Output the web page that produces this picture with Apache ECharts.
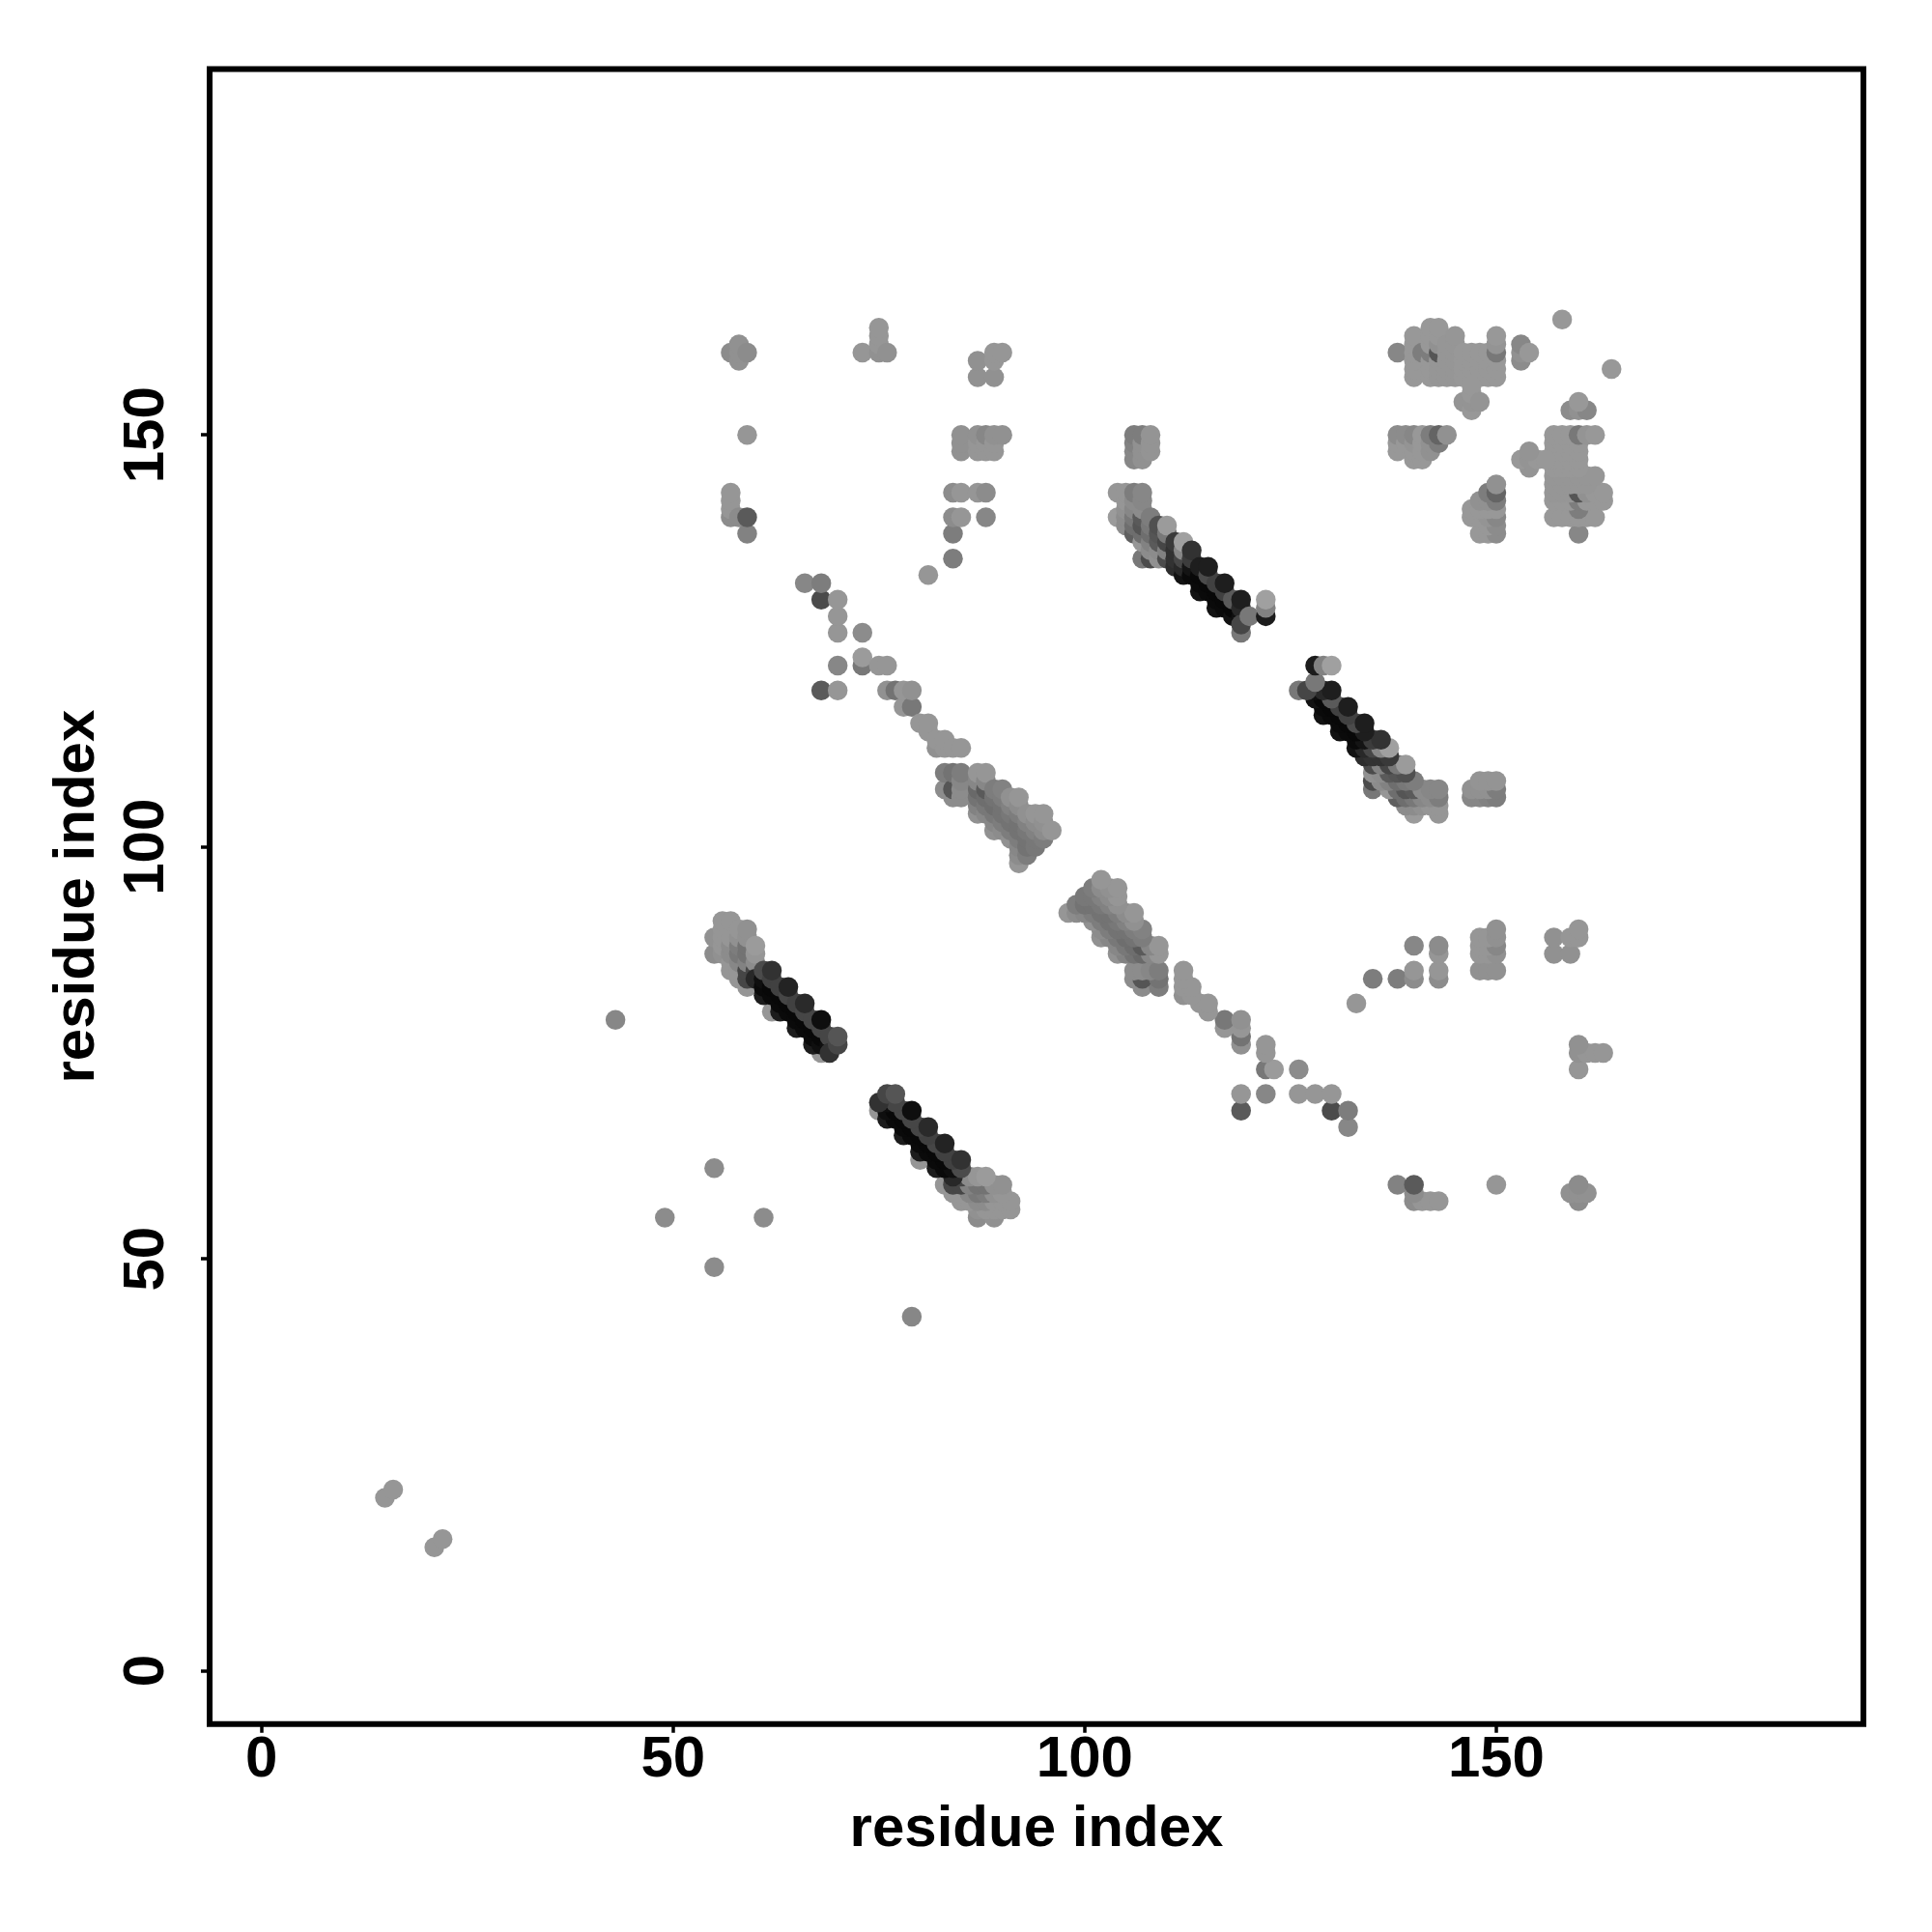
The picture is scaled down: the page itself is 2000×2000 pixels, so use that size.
<!DOCTYPE html>
<html>
<head>
<meta charset="utf-8">
<style>html,body{margin:0;padding:0;background:#fff}#c{width:2000px;height:2000px}</style>
<script src="https://cdn.jsdelivr.net/npm/echarts@6/dist/echarts.min.js"></script>
</head>
<body>
<div id="c"></div>
<script>
// every triple: residue x, residue y, grey level of the dot
const tickValues = [0, 50, 100, 150];
const axisTitle = 'residue index';

const sparseUpper = [[15,21,150],[16,22,150],[43,79,135],[49,55,140],[55,61,140],
[57,140,140],[57,141,150],[57,142,150],[57,143,150],[58,140,140],[59,138,130],[59,140,90],[59,150,150],
[57,160,140],[58,159,145],[58,160,145],[58,161,145],[59,160,140],
[73,160,150],[75,160,145],[75,161,150],[75,162,150],[75,163,150],[76,160,145],
[87,157,145],[87,159,145],[89,157,145],[89,159,150],[89,160,150],[90,160,150],
[81,133,150],[84,135,125],[84,138,125],[84,140,140],[84,143,140],[85,140,150],[85,143,150],[87,143,150],[88,140,135],[88,143,140],
[85,148,145],[85,149,145],[85,150,145],[87,148,150],[87,149,150],[87,150,145],[88,148,150],[88,149,150],[88,150,135],[89,148,150],[89,149,150],[89,150,145],[90,150,145],
[66,132,135],[68,119,90],[68,130,75],[68,132,125],[70,119,150],[70,122,135],[70,126,150],[70,128,150],[70,130,150],[73,122,120],[73,123,155],[73,126,140],[75,122,150],[76,122,150],
[76,119,145],[77,119,115],[78,117,150],[78,119,150],[79,117,120],[79,119,145],[80,115,150],[81,114,150],[81,115,150],[82,112,145],[82,113,150],[83,112,150],[83,113,150],[84,112,150],[85,112,150]];

const sparseLower = [[21,15,150],[22,16,150],[79,43,135],[55,49,140],[61,55,140],
[140,57,140],[141,57,150],[142,57,150],[143,57,150],[140,58,140],[138,59,130],[140,59,90],[150,59,150],
[160,57,140],[159,58,145],[160,58,145],[161,58,145],[160,59,140],
[160,73,150],[160,75,145],[161,75,150],[162,75,150],[163,75,150],[160,76,145],
[157,87,145],[159,87,145],[157,89,145],[159,89,150],[160,89,150],[160,90,150],
[133,81,150],[135,84,125],[138,84,125],[140,84,140],[143,84,140],[140,85,150],[143,85,150],[143,87,150],[140,88,135],[143,88,140],
[148,85,145],[149,85,145],[150,85,145],[148,87,150],[149,87,150],[150,87,145],[148,88,150],[149,88,150],[150,88,135],[148,89,150],[149,89,150],[150,89,145],[150,90,145],
[132,66,135],[119,68,90],[130,68,75],[132,68,125],[119,70,150],[122,70,135],[126,70,150],[128,70,150],[130,70,150],[122,73,120],[123,73,155],[126,73,140],[122,75,150],[122,76,150],
[119,76,145],[119,77,115],[117,78,150],[119,78,150],[117,79,120],[119,79,145],[115,80,150],[114,81,150],[115,81,150],[112,82,145],[113,82,150],[112,83,150],[113,83,150],[112,84,150],[112,85,150]];

const helixUpper = [[83,107,140],[83,109,125],[84,106,140],[84,107,85],[84,109,115],[85,106,140],[85,107,140],[85,108,135],[85,109,125],
[87,104,145],[87,105,130],[87,106,115],[87,107,105],[87,108,135],[87,109,150],
[88,104,135],[88,105,120],[88,106,110],[88,107,90],[88,108,135],[88,109,150],
[89,102,145],[89,103,135],[89,104,120],[89,105,110],[89,106,115],[89,107,125],
[90,102,140],[90,103,125],[90,104,115],[90,105,115],[90,106,125],[90,107,130],
[91,101,145],[91,102,125],[91,103,115],[91,104,120],[91,105,130],[91,106,145],
[92,98,150],[92,99,140],[92,100,135],[92,101,125],[92,102,115],[92,103,115],[92,104,125],[92,105,140],[92,106,150],
[93,99,125],[93,100,115],[93,101,115],[93,102,120],[93,103,130],[93,104,145],
[94,100,120],[94,101,120],[94,102,130],[94,103,140],[94,104,150],
[95,101,125],[95,102,140],[95,103,145],[95,104,150],[96,102,150]];

const helixLower = [[107,83,140],[109,83,125],[106,84,140],[107,84,85],[109,84,115],[106,85,140],[107,85,140],[108,85,135],[109,85,125],
[104,87,145],[105,87,130],[106,87,115],[107,87,105],[108,87,135],[109,87,150],
[104,88,135],[105,88,120],[106,88,110],[107,88,90],[108,88,135],[109,88,150],
[102,89,145],[103,89,135],[104,89,120],[105,89,110],[106,89,115],[107,89,125],
[102,90,140],[103,90,125],[104,90,115],[105,90,115],[106,90,125],[107,90,130],
[101,91,145],[102,91,125],[103,91,115],[104,91,120],[105,91,130],[106,91,145],
[98,92,150],[99,92,140],[100,92,135],[101,92,125],[102,92,115],[103,92,115],[104,92,125],[105,92,140],[106,92,150],
[99,93,125],[100,93,115],[101,93,115],[102,93,120],[103,93,130],[104,93,145],
[100,94,120],[101,94,120],[102,94,130],[103,94,140],[104,94,150],
[101,95,125],[102,95,140],[103,95,145],[104,95,150],[102,96,150]];

const strandAUpper = [[55,87,140],[55,89,145],[56,87,145],[56,88,150],[56,89,150],[56,90,150],[56,91,150],
[57,85,150],[57,86,150],[57,87,140],[57,88,140],[57,89,150],[57,90,150],[57,91,150],
[58,84,150],[58,85,150],[58,86,135],[58,87,120],[58,88,125],[58,89,145],[58,90,150],
[59,83,150],[59,84,70],[59,85,70],[59,86,130],[59,87,115],[59,88,115],[59,89,145],[59,90,145],
[60,85,70],[60,86,140],[60,87,150],[60,88,155],
[62,80,150],[68,75,150],
[61,82,28],[63,80,28],[65,78,28],[67,76,28],
[60,84,40],[61,83,10],[62,82,10],[63,81,10],[64,80,10],[65,79,10],[66,78,10],[67,77,10],[68,76,15],
[61,84,15],[62,83,8],[63,82,8],[64,81,8],[65,80,8],[66,79,8],[67,78,8],[68,77,8],[69,76,15],
[61,85,75],[62,84,65],[63,83,65],[64,82,70],[65,81,65],[66,80,70],[67,79,70],[68,78,70],[69,77,70],
[62,85,50],[64,83,35],[66,81,42],[68,79,14],
[69,75,50],[70,76,70],[70,77,85]];

const strandALower = [[87,55,140],[89,55,145],[87,56,145],[88,56,150],[89,56,150],[90,56,150],[91,56,150],
[85,57,150],[86,57,150],[87,57,140],[88,57,140],[89,57,150],[90,57,150],[91,57,150],
[84,58,150],[85,58,150],[86,58,135],[87,58,120],[88,58,125],[89,58,145],[90,58,150],
[83,59,150],[84,59,70],[85,59,70],[86,59,130],[87,59,115],[88,59,115],[89,59,145],[90,59,145],
[85,60,70],[86,60,140],[87,60,150],[88,60,155],
[80,62,150],[75,68,150],
[82,61,28],[80,63,28],[78,65,28],[76,67,28],
[84,60,40],[83,61,10],[82,62,10],[81,63,10],[80,64,10],[79,65,10],[78,66,10],[77,67,10],[76,68,15],
[84,61,15],[83,62,8],[82,63,8],[81,64,8],[80,65,8],[79,66,8],[78,67,8],[77,68,8],[76,69,15],
[85,61,75],[84,62,65],[83,63,65],[82,64,70],[81,65,65],[80,66,70],[79,67,70],[78,68,70],[77,69,70],
[85,62,50],[83,64,35],[81,66,42],[79,68,14],
[75,69,50],[76,70,70],[77,70,85]];

const strandBUpper = [[104,140,155],[104,143,150],[105,139,140],[105,140,140],[105,141,145],[105,142,150],[105,143,150],
[106,138,95],[106,139,110],[106,140,120],[106,141,135],[106,142,140],[106,143,125],
[107,135,120],[107,137,150],[107,138,110],[107,139,85],[107,140,90],[107,141,140],[107,142,135],[107,143,135],
[108,135,75],[108,136,140],[108,137,130],[108,138,110],[108,139,120],[108,140,125],
[109,135,145],[109,136,140],[109,137,90],[109,138,85],[109,139,80],
[110,135,75],[110,136,130],[110,137,70],[110,138,120],[110,139,155],
[111,134,45],[111,135,50],[111,136,50],[111,137,58],
[112,133,18],[112,134,40],[112,135,70],[112,136,135],[112,137,160],
[114,131,18],[116,129,18],
[113,133,10],[114,132,10],[115,131,10],[116,130,10],[117,129,10],[118,128,18],
[113,134,20],[114,133,8],[115,132,8],[116,131,8],[117,130,8],[118,129,8],[119,128,15],
[113,135,60],[113,136,50],
[114,134,30],[115,133,75],[116,132,65],[117,131,65],[118,130,90],[119,129,40],
[115,134,30],[117,132,30],[119,130,30],
[119,126,120],[119,127,70],[120,128,120],[122,128,28],[122,129,130],[122,130,160]];

const strandBLower = [[140,104,155],[143,104,150],[139,105,140],[140,105,140],[141,105,145],[142,105,150],[143,105,150],
[138,106,95],[139,106,110],[140,106,120],[141,106,135],[142,106,140],[143,106,125],
[135,107,120],[137,107,150],[138,107,110],[139,107,85],[140,107,90],[141,107,140],[142,107,135],[143,107,135],
[135,108,75],[136,108,140],[137,108,130],[138,108,110],[139,108,120],[140,108,125],
[135,109,145],[136,109,140],[137,109,90],[138,109,85],[139,109,80],
[135,110,75],[136,110,130],[137,110,70],[138,110,120],[139,110,155],
[134,111,45],[135,111,50],[136,111,50],[137,111,58],
[133,112,18],[134,112,40],[135,112,70],[136,112,135],[137,112,160],
[131,114,18],[129,116,18],
[133,113,10],[132,114,10],[131,115,10],[130,116,10],[129,117,10],[128,118,18],
[134,113,20],[133,114,8],[132,115,8],[131,116,8],[130,117,8],[129,118,8],[128,119,15],
[135,113,60],[136,113,50],
[134,114,30],[133,115,75],[132,116,65],[131,117,65],[130,118,90],[129,119,40],
[134,115,30],[132,117,30],[130,119,30],
[126,119,120],[127,119,70],[128,120,120],[128,122,28],[129,122,130],[130,122,160]];

const cornerUpper = [[106,147,135],[106,148,135],[106,149,130],[106,150,125],[107,147,145],[107,148,145],[107,149,145],[107,150,125],[108,148,148],[108,149,148],[108,150,148],
[138,148,152],[138,149,152],[138,150,140],[139,149,152],[139,150,140],[140,147,152],[140,148,152],[140,149,148],[140,150,135],[141,147,152],[141,148,152],[141,149,152],[141,150,152],[142,148,145],[142,149,145],[142,150,125],[143,149,125],[143,150,100],[144,150,145],
[138,160,135],[140,157,152],[140,158,152],[140,159,152],[140,160,152],[140,161,152],[140,162,152],[141,160,125],
[142,157,152],[142,158,152],[142,159,152],[142,160,125],[142,161,152],[142,162,152],[142,163,152],
[143,157,150],[143,158,150],[143,159,150],[143,160,85],[143,161,145],[143,162,152],[143,163,152],
[144,157,150],[144,158,150],[144,159,150],[144,160,150],[144,161,150],
[145,157,150],[145,158,150],[145,159,150],[145,160,150],[145,161,150],[145,162,150],
[146,157,152],[146,158,152],[146,159,152],[146,160,152],[147,157,152],[147,158,152],[147,159,152],[147,160,152],[148,157,152],[148,158,152],[148,159,152],[148,160,152],[149,157,152],[149,158,152],[149,159,152],[149,160,152],
[150,157,152],[150,158,152],[150,159,152],[150,160,120],[150,161,148],[150,162,152],
[146,154,148],[147,153,152],[147,154,148],[147,155,152],[147,156,152],[148,154,148],
[153,159,140],[153,160,145],[153,161,135],[154,160,152],[158,164,152]];

const cornerLower = [[147,106,135],[148,106,135],[149,106,130],[150,106,125],[147,107,145],[148,107,145],[149,107,145],[150,107,125],[148,108,148],[149,108,148],[150,108,148],
[148,138,152],[149,138,152],[150,138,140],[149,139,152],[150,139,140],[147,140,152],[148,140,152],[149,140,148],[150,140,135],[147,141,152],[148,141,152],[149,141,152],[150,141,152],[148,142,145],[149,142,145],[150,142,125],[149,143,125],[150,143,100],[150,144,145],
[160,138,135],[157,140,152],[158,140,152],[159,140,152],[160,140,152],[161,140,152],[162,140,152],[160,141,125],
[157,142,152],[158,142,152],[159,142,152],[160,142,125],[161,142,152],[162,142,152],[163,142,152],
[157,143,150],[158,143,150],[159,143,150],[160,143,85],[161,143,145],[162,143,152],[163,143,152],
[157,144,150],[158,144,150],[159,144,150],[160,144,150],[161,144,150],
[157,145,150],[158,145,150],[159,145,150],[160,145,150],[161,145,150],[162,145,150],
[157,146,152],[158,146,152],[159,146,152],[160,146,152],[157,147,152],[158,147,152],[159,147,152],[160,147,152],[157,148,152],[158,148,152],[159,148,152],[160,148,152],[157,149,152],[158,149,152],[159,149,152],[160,149,152],
[157,150,152],[158,150,152],[159,150,152],[160,150,120],[161,150,148],[162,150,152],
[154,146,148],[153,147,152],[154,147,148],[155,147,152],[156,147,152],[154,148,148],
[159,153,140],[160,153,145],[161,153,135],[160,154,152],[164,158,152]];

const points = [].concat(sparseUpper, sparseLower, cornerUpper, cornerLower, helixUpper, helixLower,
  strandAUpper, strandALower, strandBUpper, strandBLower);

const font = { fontFamily: '"Liberation Sans", Arial, sans-serif', fontWeight: 'bold', fontSize: 60, color: '#000' };

function axis(lo, hi, labelRotate, labelMargin, nameGap, nameRotate) {
  return {
    type: 'value', min: lo, max: hi,
    splitLine: { show: false },
    axisLine: { show: false, onZero: false },
    axisTick: { show: true, length: 9, customValues: tickValues, lineStyle: { color: '#000', width: 3.5 } },
    axisLabel: Object.assign({ customValues: tickValues, rotate: labelRotate, margin: labelMargin, hideOverlap: false }, font),
    name: axisTitle, nameLocation: 'middle', nameGap: nameGap, nameRotate: nameRotate,
    nameTextStyle: font
  };
}

const chart = echarts.init(document.getElementById('c'), null, { renderer: 'canvas' });
chart.setOption({
  animation: false,
  backgroundColor: '#fff',
  grid: { left: 217, right: 71, top: 71.5, bottom: 215.3, show: true, backgroundColor: 'transparent', borderColor: '#000', borderWidth: 6 },
  xAxis: axis(-6.3, 194.6, 0, 8, 80, 0),
  yAxis: axis(-6.45, 194.4, 90, 35, 107, 90),
  series: [{
    type: 'scatter', symbol: 'circle', symbolSize: 20.5, large: false, progressive: 0,
    data: points,
    itemStyle: { opacity: 1, color: p => { const g = p.value[2]; return 'rgb(' + g + ',' + g + ',' + g + ')'; } }
  }]
});
</script>
</body>
</html>
